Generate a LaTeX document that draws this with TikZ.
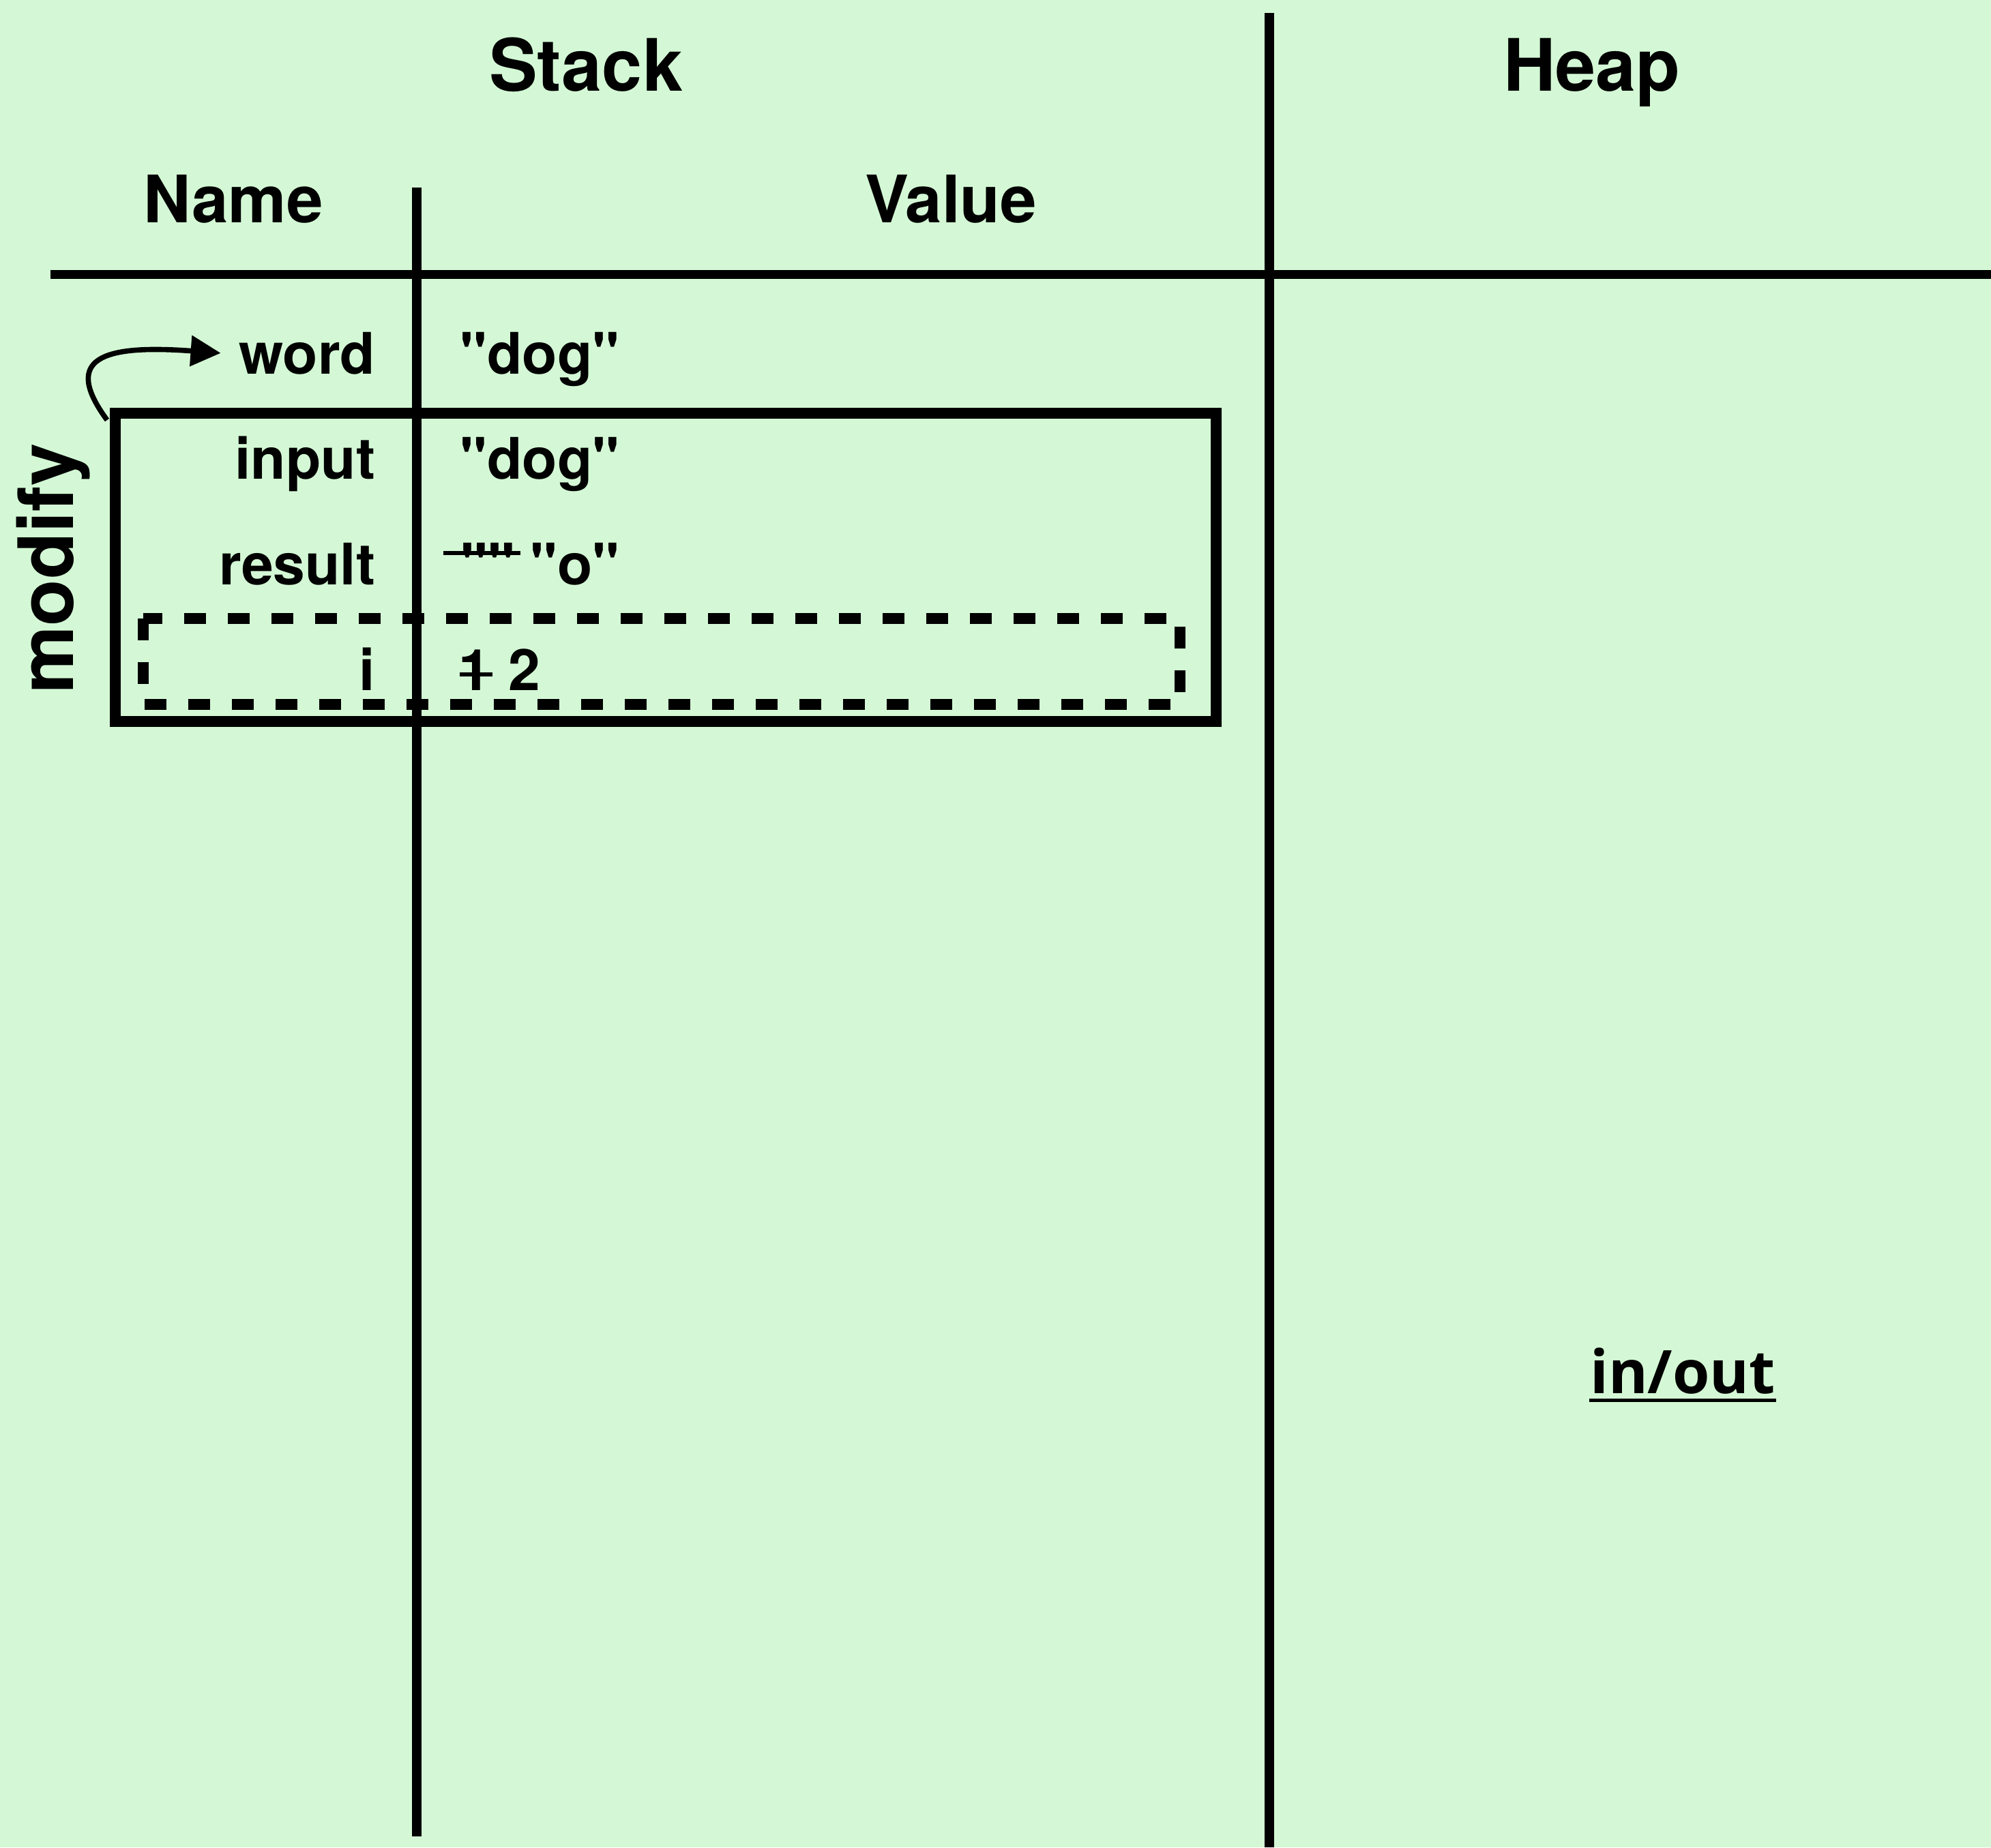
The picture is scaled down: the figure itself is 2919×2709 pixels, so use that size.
\documentclass[tikz,border=0pt]{standalone}
\usepackage{fontspec}
\setmainfont{TeX Gyre Heros}[Ligatures=TeXOff]
\newfontfamily\labelfont{Open Sans}
\usetikzlibrary{arrows.meta,calc}
\definecolor{paper}{RGB}{212,248,213}

\begin{document}
\begin{tikzpicture}[x=0.25pt,y=-0.25pt,
  rule/.style={line width=3.3pt},
  frameline/.style={line width=3.9pt},
  loopline/.style={line width=3.9pt, dash pattern=on 8pt off 8pt},
  strike/.style={line width=1.5pt},
  title/.style={inner sep=0pt, anchor=base, font=\fontsize{26.5}{30}\selectfont\bfseries},
  colhead/.style={inner sep=0pt, anchor=base, font=\fontsize{24}{28}\selectfont\bfseries},
  varname/.style={inner sep=0pt, anchor=base east, font=\fontsize{21}{25}\selectfont\bfseries},
  varval/.style={inner sep=0pt, anchor=base west, font=\fontsize{21}{25}\selectfont\bfseries},
]
% page and its fixed size
\fill[paper] (0,0) rectangle (2919,2709);
\useasboundingbox (0,0) rectangle (2919,2709);

% table rules
\draw[rule] (74,402.5) -- (2919,402.5);
\draw[rule] (611,275) -- (611,2693);
\draw[rule] (1861,19) -- (1861,2709);

% headings
\node[title] (stack) at (859,133) {Stack};
\node[title] (heap) at (2334,133) {Heap};
\node[colhead] (name) at (342,326) {Name};
\node[colhead] (value) at (1394,326) {Value};

% variables
\node[varname] (word) at (551,548) {word};
\node[varval] (wordval) at (674,548) {"dog"};
\node[varname] (input) at (551,702) {input};
\node[varval] (inputval) at (674,702) {"dog"};
\node[varname] (result) at (551,857) {result};
\node[varval] (resultold) at (675,857) {""};
\node[varval] (resultval) at (777,857) {"o"};
\node[varname] (ivar) at (551,1012) {i};
\node[varval] (iold) at (672,1012) {1};
\node[varval] (ival) at (745,1012) {2};

% crossed-out old values
\draw[strike] (650,811) -- (763,811);
\draw[strike] (674,989) -- (722,989);

% stack frame of modify and the loop scope
\coordinate (fnw) at (169,606);
\coordinate (fse) at (1783,1058);
\draw[frameline] (fnw) rectangle (fse);
\draw[loopline] (210,907) rectangle (1730,1033);

\node[inner sep=0pt, anchor=base, rotate=90,
      font=\fontsize{28}{32}\selectfont\bfseries] (modify) at (107,834) {modify};

% return arrow back to the caller's variable
\draw[line width=1.9pt, -{Triangle[length=11pt,width=11pt]}]
  ([shift={(-12,10)}]fnw) .. controls (90,525) and (150,505) .. ([xshift=-6.5pt]word.west);

% heap label
\node[inner sep=0pt, anchor=base,
      font=\labelfont\fontsize{22}{26}\selectfont\bfseries] (inout) at (2467,2043) {in/out};
\draw[line width=1.25pt] ($(inout.base west)+(0,10)$) -- ($(inout.base east)+(0,10)$);
\end{tikzpicture}
\end{document}
